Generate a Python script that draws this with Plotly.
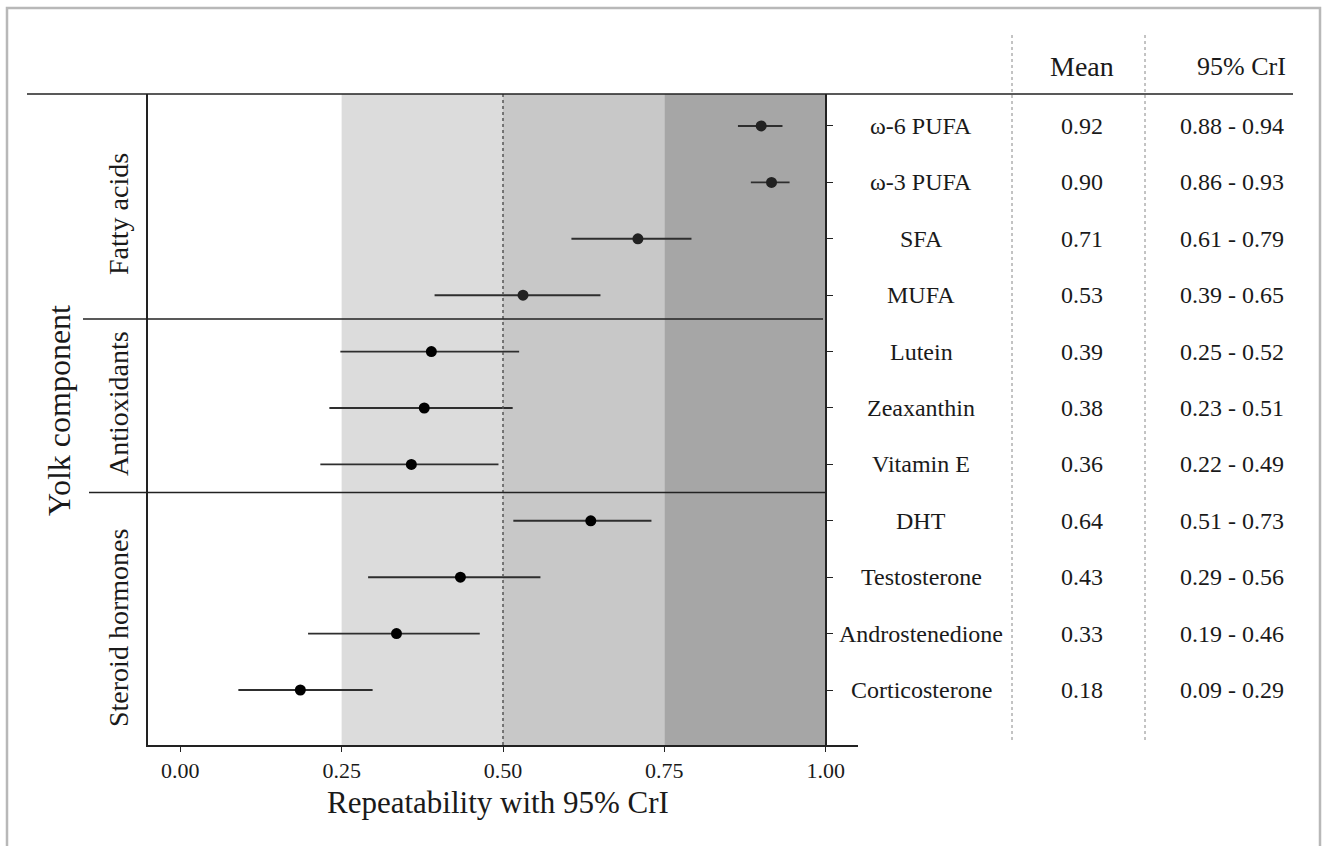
import plotly.graph_objects as go

# ---------------- data ----------------
labels = ["ω-6 PUFA", "ω-3 PUFA", "SFA", "MUFA", "Lutein", "Zeaxanthin", "Vitamin E",
          "DHT", "Testosterone", "Androstenedione", "Corticosterone"]
groups = ["Fatty acids"] * 4 + ["Antioxidants"] * 3 + ["Steroid hormones"] * 4
plot_mean = [0.900, 0.916, 0.709, 0.531, 0.389, 0.378, 0.358, 0.636, 0.434, 0.335, 0.186]
plot_low = [0.864, 0.884, 0.606, 0.394, 0.248, 0.231, 0.217, 0.516, 0.291, 0.198, 0.090]
plot_high = [0.933, 0.944, 0.792, 0.651, 0.525, 0.515, 0.493, 0.730, 0.558, 0.464, 0.298]
table_mean = ["0.92", "0.90", "0.71", "0.53", "0.39", "0.38", "0.36", "0.64", "0.43", "0.33", "0.18"]
table_cri = ["0.88 - 0.94", "0.86 - 0.93", "0.61 - 0.79", "0.39 - 0.65", "0.25 - 0.52",
             "0.23 - 0.51", "0.22 - 0.49", "0.51 - 0.73", "0.29 - 0.56", "0.19 - 0.46",
             "0.09 - 0.29"]
x_ticks = [0, 0.25, 0.5, 0.75, 1.0]
x_ticklabels = ["0.00", "0.25", "0.50", "0.75", "1.00"]
bands = [(0.25, 0.50, "#dcdcdc"), (0.50, 0.75, "#c8c8c8"), (0.75, 1.00, "#a6a6a6")]

# ---------------- geometry ----------------
W, H = 1323, 846
FONT = "Liberation Serif"
TXT = "#1a1a1a"


def px(x):
    return x / W


def py(y):
    return (H - y) / H


ypos = list(range(len(labels)))
yrange = [10.975, -0.567]
ydom = [py(745), py(94)]

pt_colors = ["#222222" if g == "Fatty acids" else "#000000" for g in groups]

fig = go.Figure()
fig.add_trace(go.Scatter(
    x=plot_mean, y=ypos, mode="markers",
    marker=dict(size=11, color=pt_colors),
    error_x=dict(type="data", symmetric=False,
                 array=[h - m for h, m in zip(plot_high, plot_mean)],
                 arrayminus=[m - l for m, l in zip(plot_mean, plot_low)],
                 color="#2e2e2e", thickness=1.9, width=0),
    showlegend=False, hoverinfo="skip"))
fig.add_trace(go.Scatter(x=[None], y=[None], yaxis="y2", showlegend=False))

shapes = []
for x0, x1, c in bands:
    shapes.append(dict(type="rect", xref="x", yref="y domain", x0=x0, x1=x1, y0=0, y1=1,
                       fillcolor=c, line=dict(width=0), layer="below"))
shapes.append(dict(type="line", xref="x", yref="y domain", x0=0.5, x1=0.5, y0=0, y1=1,
                   line=dict(color="#555555", width=1.5, dash="dot")))
# group separators
shapes.append(dict(type="line", xref="paper", yref="y", x0=px(83), x1=px(823), y0=3.42, y1=3.42,
                   line=dict(color="#222222", width=1.5)))
shapes.append(dict(type="line", xref="paper", yref="y", x0=px(89), x1=px(826), y0=6.5, y1=6.5,
                   line=dict(color="#222222", width=1.5)))
# header line
shapes.append(dict(type="line", xref="paper", yref="paper", x0=px(27), x1=px(1293),
                   y0=py(94), y1=py(94), line=dict(color="#222222", width=1.5)))
# table dotted column lines
for xc in (1012, 1145):
    shapes.append(dict(type="line", xref="paper", yref="paper", x0=px(xc), x1=px(xc),
                       y0=py(740), y1=py(33), line=dict(color="#888888", width=1, dash="dot")))
# outer frame
shapes.append(dict(type="rect", xref="paper", yref="paper", x0=px(7), x1=px(1320),
                   y0=-0.02, y1=py(8), line=dict(color="#b8b8b8", width=2.5),
                   fillcolor="rgba(0,0,0,0)"))

ann = []
for i, (lab, m, c) in enumerate(zip(labels, table_mean, table_cri)):
    ann.append(dict(x=px(921), y=i, xref="paper", yref="y", text=lab, showarrow=False,
                    xanchor="center", yanchor="middle", font=dict(family=FONT, size=24, color=TXT)))
    ann.append(dict(x=px(1082), y=i, xref="paper", yref="y", text=m, showarrow=False,
                    xanchor="center", yanchor="middle", font=dict(family=FONT, size=24, color=TXT)))
    ann.append(dict(x=px(1232), y=i, xref="paper", yref="y", text=c, showarrow=False,
                    xanchor="center", yanchor="middle", font=dict(family=FONT, size=24, color=TXT)))
ann.append(dict(x=px(1082), y=py(66), xref="paper", yref="paper", text="Mean", showarrow=False,
                xanchor="center", yanchor="middle", font=dict(family=FONT, size=28, color=TXT)))
ann.append(dict(x=px(1241), y=py(66), xref="paper", yref="paper", text="95% CrI", showarrow=False,
                xanchor="center", yanchor="middle", font=dict(family=FONT, size=26, color=TXT)))
for g, yc in (("Fatty acids", 214), ("Antioxidants", 404), ("Steroid hormones", 628)):
    ann.append(dict(x=px(118), y=py(yc), xref="paper", yref="paper", text=g, showarrow=False,
                    textangle=-90, xanchor="center", yanchor="middle",
                    font=dict(family=FONT, size=28, color=TXT)))
ann.append(dict(x=px(59), y=py(411), xref="paper", yref="paper", text="Yolk component",
                showarrow=False, textangle=-90, xanchor="center", yanchor="middle",
                font=dict(family=FONT, size=32, color=TXT)))
ann.append(dict(x=px(498), y=py(802), xref="paper", yref="paper",
                text="Repeatability with 95% CrI", showarrow=False,
                xanchor="center", yanchor="middle", font=dict(family=FONT, size=31, color=TXT)))

fig.update_layout(
    width=W, height=H, margin=dict(l=0, r=0, t=0, b=0),
    paper_bgcolor="white", plot_bgcolor="white",
    xaxis=dict(domain=[px(148), px(858)], range=[-0.05, 1.05], tickvals=x_ticks,
               ticktext=x_ticklabels, showline=True, linecolor="#222222", linewidth=1.5,
               ticks="outside", ticklen=5, tickcolor="#222222", tickwidth=1.2,
               showgrid=False, zeroline=False, anchor="y",
               tickfont=dict(family=FONT, size=22, color=TXT)),
    yaxis=dict(domain=ydom, range=yrange, showline=True, linecolor="#222222", linewidth=1.5,
               showticklabels=False, ticks="", showgrid=False, zeroline=False),
    yaxis2=dict(overlaying="y", side="right", anchor="free", position=px(826), range=yrange,
                showline=True, linecolor="#222222", linewidth=1.5, tickvals=ypos,
                ticks="outside", ticklen=6, tickcolor="#222222", showticklabels=False,
                showgrid=False, zeroline=False),
    shapes=shapes, annotations=ann,
)

fig.write_html("out.html")
